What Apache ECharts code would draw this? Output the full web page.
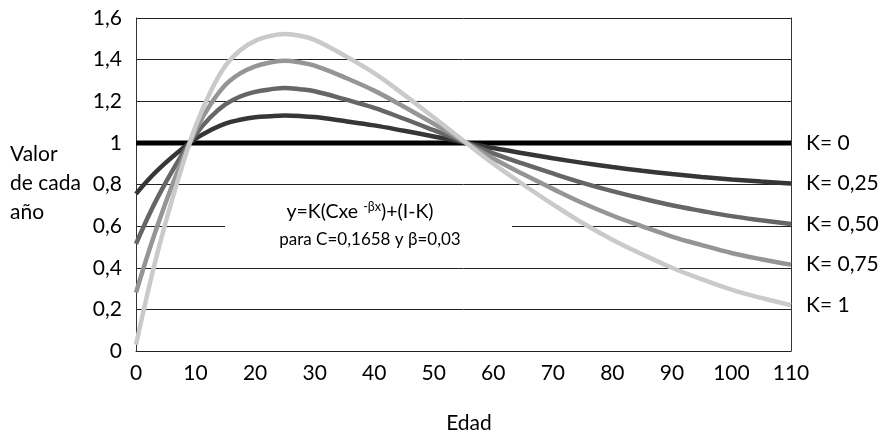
<!DOCTYPE html>
<html>
<head>
<meta charset="utf-8">
<title>Valor de cada año</title>
<script src="https://cdn.jsdelivr.net/npm/echarts@6/dist/echarts.min.js"></script>
<style>
    html, body { margin: 0; padding: 0; background: #fff; }
    #chart { width: 885px; height: 439px; }
</style>
</head>
<body>
<div id="chart"></div>
<script>
// edades (eje x)
const ages = [0, 2.5, 5, 7.5, 10, 12.5, 15, 17.5, 20, 22.5, 25, 27.5, 30, 35, 40, 45, 50, 55, 60, 65, 70, 75, 80, 85, 90, 95, 100, 105, 110];

// valores, una serie por K
const k0 = [1, 1, 1, 1, 1, 1, 1, 1, 1, 1, 1, 1, 1, 1, 1, 1, 1, 1, 1, 1, 1, 1, 1, 1, 1, 1, 1, 1, 1];
const k025 = [0.755, 0.836, 0.905, 0.966, 1.02, 1.061, 1.093, 1.111, 1.123, 1.128, 1.131, 1.129, 1.124, 1.105, 1.084, 1.058, 1.031, 1.003, 0.975, 0.95, 0.926, 0.904, 0.884, 0.866, 0.85, 0.836, 0.824, 0.814, 0.805];
const k050 = [0.515, 0.673, 0.81, 0.933, 1.04, 1.123, 1.185, 1.223, 1.245, 1.257, 1.264, 1.258, 1.248, 1.21, 1.168, 1.116, 1.061, 1.005, 0.95, 0.9, 0.853, 0.808, 0.768, 0.733, 0.7, 0.673, 0.648, 0.628, 0.61];
const k075 = [0.28, 0.509, 0.715, 0.899, 1.06, 1.184, 1.278, 1.334, 1.368, 1.386, 1.395, 1.387, 1.371, 1.315, 1.251, 1.174, 1.092, 1.008, 0.925, 0.85, 0.779, 0.711, 0.651, 0.599, 0.55, 0.509, 0.471, 0.441, 0.415];
const k100 = [0.03, 0.345, 0.62, 0.865, 1.08, 1.245, 1.37, 1.445, 1.49, 1.513, 1.523, 1.515, 1.495, 1.42, 1.335, 1.232, 1.122, 1.01, 0.9, 0.8, 0.705, 0.615, 0.535, 0.465, 0.4, 0.345, 0.295, 0.255, 0.22];

const seriesNames = ['K= 0', 'K= 0,25', 'K= 0,50', 'K= 0,75', 'K= 1'];
const seriesColors = ['#000000', '#363636', '#666666', '#959595', '#cacaca'];
const seriesValues = [k0, k025, k050, k075, k100];

const FONT = 'Lato, "Open Sans", sans-serif';

const chart = echarts.init(document.getElementById('chart'));

chart.setOption({
    animation: false,
    backgroundColor: '#fff',
    textStyle: { fontFamily: FONT, color: '#000' },
    grid: {
        left: 136,
        right: 94,
        top: 18,
        bottom: 85,
        containLabel: false
    },
    xAxis: {
        type: 'value',
        min: 0,
        max: 110,
        interval: 10,
        name: 'Edad',
        nameLocation: 'middle',
        nameGap: 62,
        nameTextStyle: { fontSize: 21, color: '#000', fontFamily: FONT, padding: [0, 0, 0, 11] },
        axisLine: { show: true, lineStyle: { color: '#222', width: 1 } },
        axisTick: { show: false },
        splitLine: { show: false },
        axisLabel: { fontSize: 21, color: '#000', margin: 12, fontFamily: FONT }
    },
    yAxis: [{
        type: 'value',
        min: 0,
        max: 1.6,
        interval: 0.2,
        axisLine: { show: true, lineStyle: { color: '#333', width: 1 } },
        axisTick: { show: false },
        splitLine: { show: true, lineStyle: { color: '#222', width: 1 } },
        axisLabel: {
            fontSize: 21,
            color: '#000',
            margin: 14,
            fontFamily: FONT,
            formatter: function(v) {
                return String(Number(v.toFixed(1))).replace('.', ',');
            }
        }
    }, {
        type: 'value',
        position: 'right',
        min: 0,
        max: 1.6,
        interval: 0.2,
        axisLine: { show: true, lineStyle: { color: '#333', width: 1 } },
        axisTick: { show: false },
        splitLine: { show: false },
        axisLabel: { show: false }
    }],
    graphic: [{
        type: 'text',
        left: 10,
        top: 140,
        style: {
            text: 'Valor\nde cada\naño',
            font: '21px ' + FONT,
            lineHeight: 29,
            fill: '#000'
        }
    }, {
        // caja blanca de la formula, tapa la linea de 0,6
        type: 'rect',
        z: 1,
        shape: { x: 225, y: 196, width: 287, height: 60 },
        style: { fill: '#fff' }
    }, {
        type: 'text',
        z: 3,
        x: 360,
        y: 212,
        style: {
            text: 'y=K(Cxe {sup|-βx})+(I-K)',
            align: 'center',
            verticalAlign: 'middle',
            fontFamily: FONT,
            fontSize: 19.5,
            fill: '#000',
            rich: {
                sup: { fontSize: 12.5, lineHeight: 12, verticalAlign: 'top', fontFamily: FONT, fill: '#000' }
            },
            lineHeight: 24
        }
    }, {
        type: 'text',
        z: 3,
        x: 370,
        y: 240,
        style: {
            text: 'para C=0,1658 y β=0,03',
            align: 'center',
            verticalAlign: 'middle',
            font: '17px ' + FONT,
            fill: '#000'
        }
    }],
    series: seriesValues.map(function(vals, i) {
        return {
            name: seriesNames[i],
            type: 'line',
            smooth: i === 0 ? false : 0.4,
            showSymbol: false,
            symbol: 'none',
            z: 3 + i,
            lineStyle: { color: seriesColors[i], width: i === 0 ? 5 : 4.5 },
            endLabel: {
                show: true,
                formatter: '{a}',
                distance: 15,
                fontSize: 21,
                color: '#000',
                fontFamily: FONT
            },
            data: ages.map(function(a, j) { return [a, vals[j]]; })
        };
    })
});
</script>
</body>
</html>
